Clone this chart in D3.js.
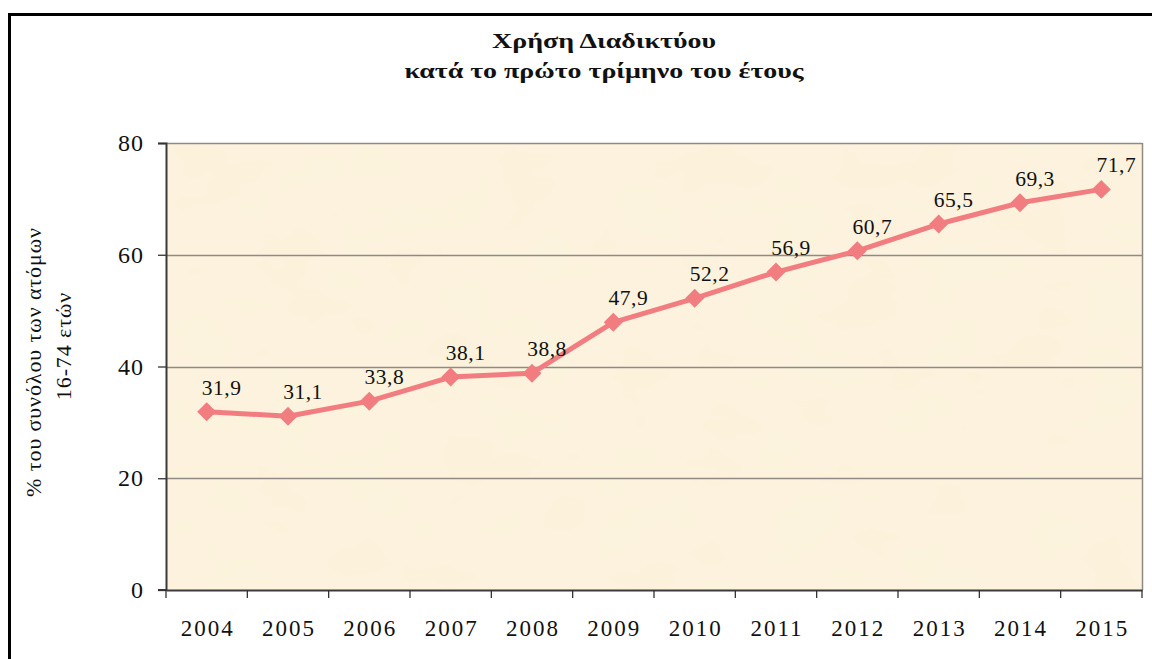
<!DOCTYPE html>
<html>
<head>
<meta charset="utf-8">
<script src="https://cdn.jsdelivr.net/npm/d3@7"></script>
<style>
  html, body { margin: 0; padding: 0; background: #fff; }
  svg { display: block; }
  svg text { font-family: "Liberation Serif", serif !important; }
</style>
</head>
<body>
<svg id="chart" width="1152" height="659"></svg>
<script>
// Data
const years = ["2004", "2005", "2006", "2007", "2008", "2009", "2010", "2011", "2012", "2013", "2014", "2015"];
const usage = [31.9, 31.1, 33.8, 38.1, 38.8, 47.9, 52.2, 56.9, 60.7, 65.5, 69.3, 71.7];
const yTicks = [0, 20, 40, 60, 80];
const titleLines = ["Χρήση Διαδικτύου", "κατά το πρώτο τρίμηνο του έτους"];
const yLabelLines = ["% του συνόλου των ατόμων", "16-74 ετών"];

const svg = d3.select("#chart");
const margin = { top: 143, right: 10, bottom: 69, left: 166 };
const width = 1142 - margin.left;
const height = 590 - margin.top;

// Outer frame (only top and left edges visible)
svg.append("path")
    .attr("d", "M9.5,700 L9.5,14.5 L1160,14.5")
    .attr("fill", "none")
    .attr("stroke", "#000")
    .attr("stroke-width", 3);

// Paper-like texture for the plot background
const defs = svg.append("defs");
const filt = defs.append("filter").attr("id", "paper").attr("x", 0).attr("y", 0).attr("width", 1).attr("height", 1);
filt.append("feTurbulence").attr("type", "fractalNoise").attr("baseFrequency", "0.012 0.02").attr("numOctaves", 3).attr("seed", 4).attr("result", "n");
filt.append("feColorMatrix").attr("in", "n").attr("type", "matrix")
    .attr("values", "0 0 0 0 0.99  0 0 0 0 0.93  0 0 0 0 0.80  0 0 0 0.55 -0.05");
filt.append("feComposite").attr("in2", "SourceGraphic").attr("operator", "over");

const x = d3.scaleBand().domain(years).range([0, width]);
const y = d3.scaleLinear().domain([0, 80]).range([height, 0]);

const g = svg.append("g").attr("transform", `translate(${margin.left},${margin.top})`);

g.append("rect")
    .attr("width", width).attr("height", height)
    .attr("fill", "#fcf2dc");
g.append("rect")
    .attr("width", width).attr("height", height)
    .attr("fill", "#fcf2dc")
    .attr("filter", "url(#paper)")
    .attr("opacity", 0.5);

// Gridlines
g.selectAll(".grid")
    .data(yTicks.filter(d => d > 0))
    .enter().append("line")
    .attr("x1", 0).attr("x2", width)
    .attr("y1", d => Math.round(y(d)) + 0.5).attr("y2", d => Math.round(y(d)) + 0.5)
    .attr("stroke", "#8e8b86").attr("stroke-width", 1.3);

// Right border of the plot
g.append("line")
    .attr("x1", width + 0.5).attr("x2", width + 0.5)
    .attr("y1", 0).attr("y2", height)
    .attr("stroke", "#8e8b86").attr("stroke-width", 1.5);

// Y axis
const yAxis = g.append("g")
    .call(d3.axisLeft(y).tickValues(yTicks).tickSize(8).tickPadding(14));
// X axis, ticks at category boundaries
const xAxis = g.append("g")
    .attr("transform", `translate(0,${height})`)
    .call(d3.axisBottom(x).tickSize(0).tickPadding(30));
xAxis.selectAll(".xb")
    .data(years.concat(["end"]))
    .enter().append("line")
    .attr("class", "xb")
    .attr("x1", (d, i) => i < years.length ? x(d) : width)
    .attr("x2", (d, i) => i < years.length ? x(d) : width)
    .attr("y1", 0).attr("y2", 8)
    .attr("stroke", "#333").attr("stroke-width", 1.3);

[yAxis, xAxis].forEach(a => {
    a.select(".domain").attr("stroke", "#3a3a3a").attr("stroke-width", 2);
    a.selectAll(".tick line").attr("stroke", "#333").attr("stroke-width", 1.3);
    a.selectAll(".tick text")
        .attr("fill", "#111")
        .style("font-size", "23px");
});
xAxis.selectAll(".tick text").style("letter-spacing", "2px").attr("dx", 1);
yAxis.selectAll(".tick text").style("letter-spacing", "1px").style("font-size", "24px");
yAxis.select(".domain").attr("d", `M-8,0.5H0.5V${height}H-8`);

// The series line
const cx = d => x(d) + x.bandwidth() / 2;
const data = years.map((yr, i) => ({ yr, v: usage[i] }));
g.append("path")
    .datum(data)
    .attr("fill", "none")
    .attr("stroke", "#f27d80")
    .attr("stroke-width", 5)
    .attr("stroke-linejoin", "round")
    .attr("d", d3.line().x(d => cx(d.yr)).y(d => y(d.v)));

g.selectAll(".marker")
    .data(data)
    .enter().append("path")
    .attr("class", "marker")
    .attr("d", d3.symbol(d3.symbolDiamond2, 230)())
    .attr("transform", d => `translate(${cx(d.yr)},${y(d.v)})`)
    .attr("fill", "#f27d80");

// Value labels
g.selectAll(".vlabel")
    .data(data)
    .enter().append("text")
    .attr("class", "vlabel")
    .attr("x", d => cx(d.yr) + 15)
    .attr("y", d => y(d.v) - 17)
    .attr("text-anchor", "middle")
    .attr("fill", "#111")
    .style("font-size", "21.5px")
    .style("letter-spacing", "0.5px")
    .text(d => String(d.v).replace(".", ","));

// Title (the original is set wide)
svg.append("g")
    .attr("transform", "translate(604,0) scale(1.3,1)")
    .selectAll("text")
    .data(titleLines)
    .enter().append("text")
    .attr("x", 0)
    .attr("y", (d, i) => 48 + i * 30)
    .attr("text-anchor", "middle")
    .attr("fill", "#111")
    .style("font-weight", "bold")
    .style("font-size", "21.5px")
    .text(d => d);

// Y axis title
svg.append("g")
    .attr("transform", "translate(0,362) rotate(-90)")
    .selectAll("text")
    .data(yLabelLines)
    .enter().append("text")
    .attr("x", (d, i) => i * 16)
    .attr("y", (d, i) => 41 + i * 30)
    .attr("text-anchor", "middle")
    .attr("fill", "#111")
    .style("font-size", "22px")
    .style("letter-spacing", "0.9px")
    .text(d => d);
</script>
</body>
</html>
